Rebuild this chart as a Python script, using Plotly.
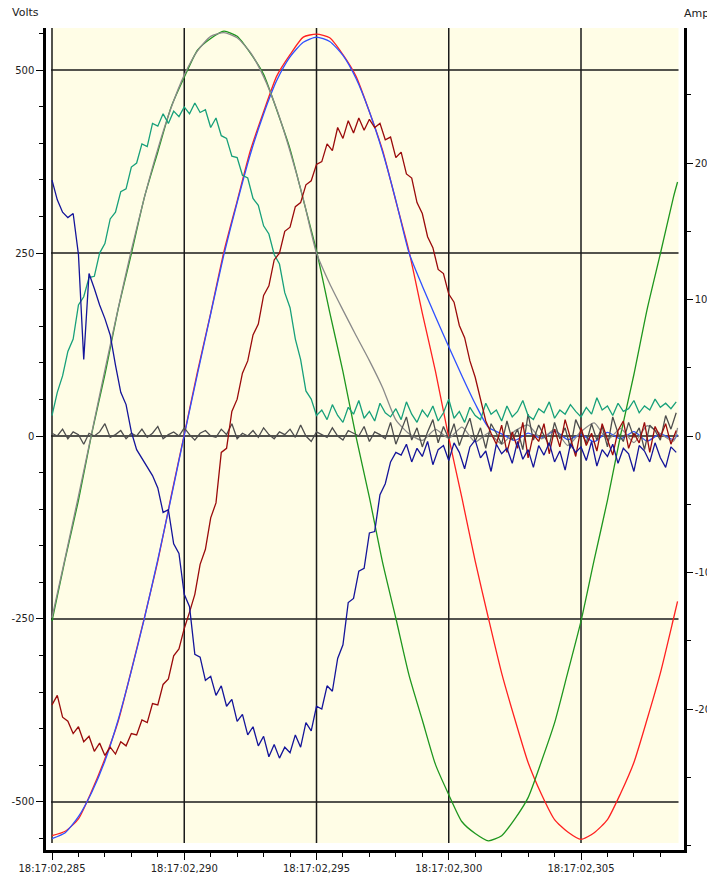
import numpy as np
import plotly.graph_objects as go

# ---- time base -------------------------------------------------------------
# current channels are sampled every 0.2 ms from 18:17:02,285
CUR_T0 = 285.0
CUR_STEP = 0.2
# voltage channels are listed every 0.5 ms (plus the last sample)
volt_t = list(np.arange(285.0, 308.51, 0.5)) + [308.65]

# ---- voltages (V) ----------------------------------------------------------
v_red = [-546, -540, -523, -485, -441, -390, -320, -247, -171, -83,
         2, 88, 168, 252, 321, 390, 443, 492, 521, 545,
         549, 544, 521, 491, 443, 390, 321, 252, 168, 88,
         -2, -85, -171, -249, -324, -387, -446, -489, -524, -541,
         -551, -542, -524, -488, -446, -387, -324, -249, -226]

v_blue = [-550, -542, -520, -487, -444, -388, -321, -248, -169, -85,
          1, 85, 167, 248, 319, 385, 440, 486, 518, 538,
          545, 539, 520, 488, 443, 388, 322, 250, 205, 163,
          122, 82, 44, 12, 3, -6, 4, -3, 7, -5,
          2, -8, 5, -4, 6, -7, 3, -5, 2]

v_green = [-253, -168, -88, 3, 84, 173, 249, 327, 388, 449,
           490, 527, 543, 553, 546, 523, 494, 445, 392, 323,
           253, 169, 88, -2, -84, -173, -249, -327, -388, -449,
           -490, -527, -543, -553, -546, -523, -494, -445, -392, -323,
           -253, -169, -88, 2, 84, 173, 249, 327, 347]

v_gray = [-248, -166, -82, 4, 90, 174, 254, 327, 392, 448,
          493, 526, 546, 551, 544, 524, 491, 446, 389, 324,
          250, 208, 172, 137, 103, 66, 22, 3, -6, 9,
          -3, 12, -8, 4, -11, 7, 15, -4, 9, -13,
          6, 18, -5, 10, -9, 14, 3, -7, 11]

# ---- currents (A) ----------------------------------------------------------
i_teal = [1.5, 3.2, 4.4, 6.2, 7.1, 9.6, 10.2, 11.6, 11.7, 13.4,
          14.1, 15.9, 16.4, 17.9, 18.1, 19.7, 20.0, 21.4, 21.2, 22.9,
          22.7, 23.6, 22.9, 23.8, 23.4, 24.1, 23.6, 24.4, 23.7, 23.9,
          22.6, 23.3, 22.0, 21.8, 20.5, 20.4, 19.1, 18.9, 17.4, 16.9,
          15.4, 14.8, 13.3, 12.6, 10.5, 9.4, 7.1, 5.6, 3.3, 2.7,
          1.5, 1.9, 1.2, 2.3, 1.5, 1.0, 2.1, 1.6, 2.6, 1.3,
          1.8, 1.1, 2.4, 1.7, 1.4, 2.0, 1.2, 2.5, 1.6, 1.0,
          1.9, 1.4, 2.2, 1.1, 1.7, 2.7, 1.3, 1.8, 1.0, 2.1,
          1.5, 1.2, 2.4, 1.6, 1.9, 1.1, 2.2, 1.4, 1.8, 2.6,
          1.5, 1.2, 2.0, 1.7, 2.5, 1.3, 1.9, 1.6, 2.3, 1.8,
          1.4, 2.1, 1.6, 2.8, 1.9, 2.2, 1.5, 2.4, 1.8, 2.0,
          2.6, 1.7, 2.2, 1.9, 2.7, 2.1, 2.4, 2.0, 2.5]

i_maroon = [-19.7, -19.0, -20.6, -20.9, -21.8, -21.3, -22.4, -22.0, -23.1, -22.5,
            -23.4, -22.8, -23.3, -22.4, -22.7, -21.8, -21.9, -20.8, -21.0, -19.6,
            -19.7, -18.2, -17.8, -16.1, -15.6, -14.1, -12.9, -11.6, -9.4, -8.3,
            -6.0, -4.9, -1.2, -0.9, 1.8, 2.7, 4.6, 5.5, 7.4, 8.2,
            10.3, 11.0, 12.9, 13.4, 15.0, 15.3, 16.8, 17.1, 18.4, 18.7,
            19.9, 20.1, 21.4, 20.9, 22.6, 21.8, 23.1, 22.2, 23.3, 22.4,
            23.2, 22.6, 22.9, 21.7, 21.9, 20.4, 20.8, 19.2, 18.9, 17.1,
            16.3, 14.6, 13.8, 12.2, 11.9, 10.4, 9.8, 8.1, 7.2, 5.5,
            4.3, 2.6, 1.1, 0.2, -0.6, 0.8, -1.2, 0.3, -0.9, 1.0,
            -1.6, 0.1, -0.4, 0.9, -1.3, 0.5, -0.8, 1.2, -0.2, -1.5,
            0.6, -0.7, 0.2, -1.1, 0.9, -0.3, -1.4, 0.4, 1.1, -0.9,
            0.2, -0.5, 1.0, -1.2, 0.7, -0.1, 0.9, -0.6, 0.4]

i_navy = [18.75, 17.3, 16.4, 16.0, 16.3, 13.3, 5.6, 11.9, 10.8, 9.6,
          8.6, 7.4, 5.2, 3.2, 2.3, 0.3, -1.0, -1.6, -2.3, -2.9,
          -3.8, -5.6, -5.4, -7.9, -8.6, -11.6, -12.5, -16.0, -16.2, -17.9,
          -17.6, -19.0, -18.3, -19.8, -19.3, -20.9, -20.4, -21.9, -21.3, -22.7,
          -22.0, -23.5, -22.6, -23.6, -22.8, -23.2, -21.9, -22.8, -21.0, -21.6,
          -19.8, -20.0, -18.3, -18.7, -16.3, -15.3, -12.2, -11.9, -9.9, -9.7,
          -7.1, -7.0, -4.3, -3.5, -1.9, -1.2, -1.4, -0.6, -1.9, -0.9,
          -1.5, -0.4, -2.1, -1.0, -0.7, -1.8, -0.5, -1.2, -2.4, -0.8,
          -0.3, -1.6, -1.1, -2.6, -0.6, -1.3, -0.9, -2.0, -0.4, -1.7,
          -1.0, -2.3, -0.7, -1.4, -0.5, -1.9, -1.1, -2.5, -0.6, -1.2,
          -0.8, -1.8, -0.4, -2.2, -1.0, -1.5, -0.6, -2.0, -0.9, -1.3,
          -2.6, -0.7, -1.1, -1.9, -0.5, -1.6, -2.3, -0.8, -1.2]

i_neutral = [0.2, 0.0, 0.5, -0.2, 0.3, 0.1, -0.6, 0.2, 0.0, 0.3,
             0.9, -0.1, 0.1, 0.4, -0.2, 0.2, 0.0, 0.5, -0.1, 0.2,
             0.7, -0.2, 0.1, 0.3, 0.0, 0.6, 0.1, -0.3, 0.2, 0.4,
             0.0, -0.1, 0.5, 0.1, 0.9, -0.2, 0.2, 0.0, 0.4, -0.1,
             0.6, 0.1, -0.2, 0.3, 0.1, 0.5, -0.1, 0.8, 0.0, -0.4,
             0.3, 0.1, -0.1, 0.6, 0.0, -0.3, 0.4, 0.2, 0.0, 0.7,
             -0.4, 0.3, 0.1, -0.2, 1.0, -0.6, 0.4, 1.4, -0.3, 0.6,
             -0.8, 0.3, 1.2, -0.5, 0.7, -0.2, 0.9, -0.7, 0.4, 1.3,
             -0.4, 0.6, -0.9, 0.9, 0.2, -0.6, 1.1, -0.3, 0.5, -1.0,
             1.6, -0.3, 0.8, 0.1, -0.7, 1.0, -0.2, 0.6, -0.9, 1.2,
             0.3, -0.5, 0.9, -0.3, 0.7, -0.8, 1.4, 0.2, -0.4, 1.0,
             -0.1, 0.6, -1.0, 0.8, 0.4, -0.3, 1.5, 0.5, 1.7]

# ---- axis ticks ------------------------------------------------------------
time_ticks = [285, 290, 295, 300, 305]
time_labels = ["18:17:02,%d" % t for t in time_ticks]
time_minor = list(range(285, 309))
volt_ticks = [-500, -250, 0, 250, 500]
volt_labels = ["-500", "-250", "0", "250", "500"]
volt_minor = list(range(-550, 551, 50))
amp_ticks = [-20, -10, 0, 10, 20]
amp_labels = ["-20", "-10", "0", "10", "20"]
amp_minor = list(range(-30, 31, 5))


def cur_time(values):
    return [CUR_T0 + CUR_STEP * k for k in range(len(values))]


fig = go.Figure()

# currents on the right-hand axis
for vals, col in [(i_neutral, "#4d4d4d"), (i_teal, "#17a07a"),
                  (i_maroon, "#9a0a0a"), (i_navy, "#14149a")]:
    fig.add_trace(go.Scatter(x=cur_time(vals), y=vals, yaxis="y2", mode="lines",
                             line=dict(color=col, width=1.3), hoverinfo="skip"))

# voltages on the left-hand axis
for vals, col in [(v_red, "#ff2020"), (v_blue, "#2f50ff"),
                  (v_green, "#1e961e"), (v_gray, "#8a8a8a")]:
    fig.add_trace(go.Scatter(x=volt_t, y=vals, yaxis="y", mode="lines",
                             line=dict(color=col, width=1.3, shape="spline", smoothing=0.6),
                             hoverinfo="skip"))

# cream panel and black grid, inset from the axis lines
PX0, PX1, PY0 = 0.0078, 0.9914, 0.0085
shapes = [dict(type="rect", xref="paper", yref="paper", x0=PX0, x1=PX1, y0=PY0, y1=1,
               fillcolor="#fffde6", line=dict(width=0), layer="below")]
for t in time_ticks:
    shapes.append(dict(type="line", xref="x", yref="paper", x0=t, x1=t, y0=PY0, y1=1,
                       line=dict(color="#1a1a1a", width=1.5), layer="below"))
for v in volt_ticks:
    shapes.append(dict(type="line", xref="paper", yref="y", x0=PX0, x1=PX1, y0=v, y1=v,
                       line=dict(color="#1a1a1a", width=1.5), layer="below"))

axis_common = dict(showgrid=False, zeroline=False, showline=True, linecolor="black",
                   linewidth=2.5, ticks="outside", tickcolor="black", tickwidth=1.2,
                   tickmode="array", automargin=False)

fig.update_layout(
    width=707, height=874,
    margin=dict(l=46, r=23, t=28, b=24),
    paper_bgcolor="white", plot_bgcolor="white",
    showlegend=False,
    font=dict(family="DejaVu Sans", size=10, color="#222222"),
    shapes=shapes,
    xaxis=dict(range=[284.773, 308.894], tickvals=time_ticks, ticktext=time_labels,
               ticklen=7,
               minor=dict(tickmode="array", tickvals=time_minor, ticks="outside",
                          ticklen=4, tickcolor="black", tickwidth=1.2, showgrid=False),
               **axis_common),
    yaxis=dict(range=[-565.6, 557.4], tickvals=volt_ticks, ticktext=volt_labels,
               ticklen=7,
               minor=dict(tickmode="array", tickvals=volt_minor, ticks="outside",
                          ticklen=4, tickcolor="black", tickwidth=1.2, showgrid=False),
               **axis_common),
    yaxis2=dict(range=[-30.33, 29.89], overlaying="y", side="right",
                tickvals=amp_ticks, ticktext=amp_labels, ticklen=6,
                minor=dict(tickmode="array", tickvals=amp_minor, ticks="outside",
                           ticklen=4, tickcolor="black", tickwidth=1.2, showgrid=False),
                **axis_common),
    annotations=[
        dict(text="Volts", xref="paper", yref="paper", x=-0.056, y=1.0185,
             xanchor="left", yanchor="middle", showarrow=False,
             font=dict(family="DejaVu Sans", size=11, color="#222222")),
        dict(text="Amps", xref="paper", yref="paper", x=0.997, y=1.018,
             xanchor="left", yanchor="middle", showarrow=False,
             font=dict(family="DejaVu Sans", size=11, color="#222222")),
    ],
)

fig.write_html("out.html")
